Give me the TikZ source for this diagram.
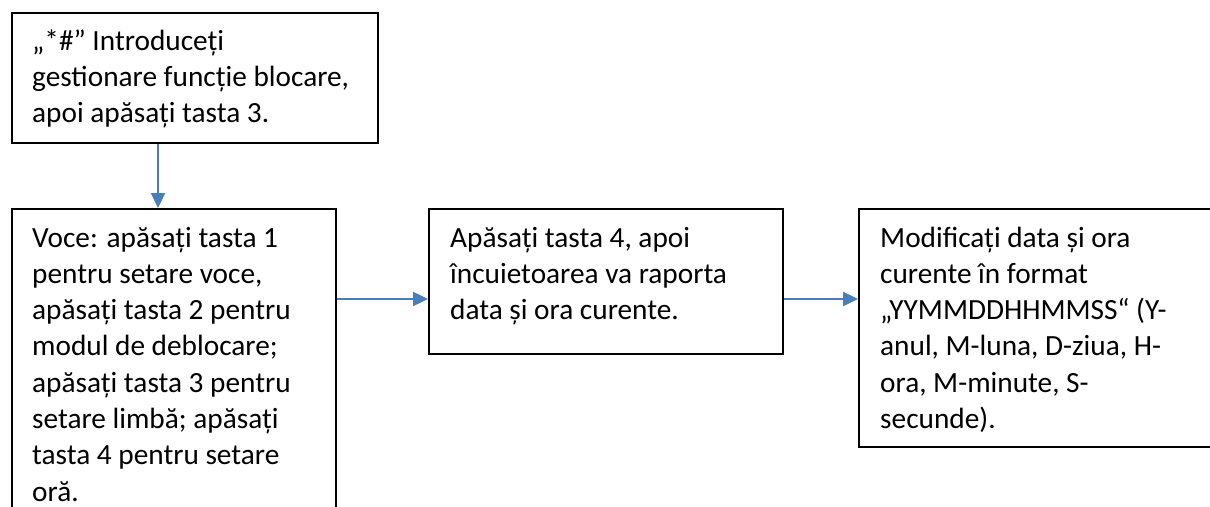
\documentclass[tikz,border=0pt]{standalone}
\usepackage{fontspec}
\setmainfont{Carlito}
\usetikzlibrary{arrows.meta}
\definecolor{arrblue}{RGB}{74,126,187}
\tikzset{
  box/.style={draw=black, line width=1.8pt, rectangle, inner sep=0pt, anchor=north west},
  txt/.style={anchor=base west, inner sep=0pt, font=\fontsize{29.3}{36.3}\selectfont},
  arr/.style={draw=arrblue, line width=2.4pt, -{Triangle[length=15pt,width=14pt]}}
}
\begin{document}
\begin{tikzpicture}[x=1pt,y=-1pt]
\useasboundingbox (0,0) rectangle (1210,506);
\clip (0,0) rectangle (1210,506);
\fill[white] (0,0) rectangle (1210,506);
\node[box, minimum width=366pt, minimum height=130pt] (b1) at (11,12) {};
\node[box, minimum width=324pt, minimum height=320pt] (b2) at (11,208) {};
\node[box, minimum width=354pt, minimum height=145pt] (b3) at (428,208) {};
\node[box, minimum width=362pt, minimum height=238pt] (b4) at (858,208) {};
\node[txt] (t1) at (32,50) {\parbox[t]{340pt}{\raggedright „*\#” Introduceți\\ gestionare funcție blocare,\\ apoi apăsați tasta 3.}};
\node[txt] (t2) at (32,247) {\parbox[t]{300pt}{\raggedright Voce: apăsați tasta 1\\ pentru setare voce,\\ apăsați tasta 2 pentru\\ modul de deblocare;\\ apăsați tasta 3 pentru\\ setare limbă; apăsați\\ tasta 4 pentru setare\\ oră.}};
\node[txt] (t3) at (450,247) {\parbox[t]{330pt}{\raggedright Apăsați tasta 4, apoi\\ încuietoarea va raporta\\ data și ora curente.}};
\node[txt] (t4) at (880,247) {\parbox[t]{330pt}{\raggedright Modificați data și ora\\ curente în format\\ „YYMMDDHHMMSS“ (Y-\\ anul, M-luna, D-ziua, H-\\ ora, M-minute, S-\\ secunde).}};
\draw[arr] ([xshift=147pt]b1.south west) -- ([xshift=147pt]b2.north west);
\draw[arr] ([yshift=-91pt]b2.north east) -- ([yshift=-91pt]b3.north west);
\draw[arr] ([yshift=-91pt]b3.north east) -- ([yshift=-91pt]b4.north west);
\end{tikzpicture}
\end{document}
